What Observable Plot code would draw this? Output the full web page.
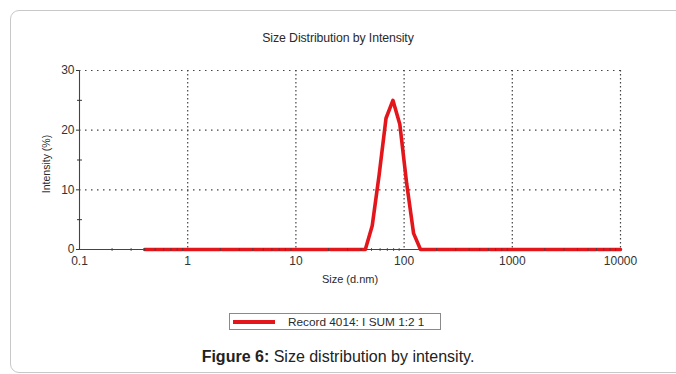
<!DOCTYPE html>
<html>
<head>
<meta charset="utf-8">
<script src="https://cdn.jsdelivr.net/npm/d3@7"></script>
<script src="https://cdn.jsdelivr.net/npm/@observablehq/plot@0.6"></script>
<style>
  html, body { margin: 0; padding: 0; background: #fff; }
  body { width: 676px; height: 374px; position: relative; overflow: hidden; font-family: 'Liberation Sans', Arial, sans-serif; }
  #card { position: absolute; left: 10px; top: 10px; width: 720px; height: 363px; border: 1px solid #c8c8c8; border-radius: 9px; box-sizing: border-box; }
  #title { position: absolute; left: 0; top: 31px; width: 676px; text-align: center; font-size: 12.3px; color: #2a2a2a; letter-spacing: -0.1px; }
  #chart { position: absolute; left: 0; top: 50px; }
  #legend { position: absolute; left: 229px; top: 313px; width: 212px; height: 17px; border: 1px solid #8a8a8a; box-sizing: border-box; background: #fff; }
  #legend .swatch { position: absolute; left: 3px; top: 6px; width: 42px; height: 3.5px; background: #e3161c; }
  #legend .lab { position: absolute; left: 58px; top: 1px; font-size: 11.8px; color: #2a2a2a; white-space: nowrap; }
  #caption { position: absolute; left: 0; top: 348px; width: 676px; text-align: center; font-size: 16px; color: #222; }
</style>
</head>
<body>
<div id="card"></div>
<div id="title">Size Distribution by Intensity</div>
<div id="chart"></div>
<div id="legend"><div class="swatch"></div><div class="lab">Record 4014: I SUM 1:2 1</div></div>
<div id="caption"><b>Figure 6:</b> Size distribution by intensity.</div>
<script>
// Data
const sizes = [0.4, 43.82, 50.75, 58.77, 68.06, 78.82, 91.28, 105.7, 122.4, 141.8, 10000];
const intensity = [0, 0, 4, 12.5, 22, 25, 21, 11, 2.7, 0, 0];

const xTicks = [0.1, 1, 10, 100, 1000, 10000];
const xTickLabels = ["0.1", "1", "10", "100", "1000", "10000"];
const yTicks = [0, 10, 20, 30];
const yTickLabels = ["0", "10", "20", "30"];
const yMinor = [5, 15, 25];
const decades = [0.1, 1, 10, 100, 1000];
const multipliers = [2, 3, 4, 5, 6, 7, 8, 9];
const xMinor = decades.flatMap(d => multipliers.map(m => +(d * m).toPrecision(3)));

const data = sizes.map((s, i) => ({size: s, value: intensity[i]}));

const vbar = {draw(ctx, size) { const h = Math.sqrt(size) / 2; ctx.moveTo(0, -h); ctx.lineTo(0, h); }};
const hbar = {draw(ctx, size) { const h = Math.sqrt(size) / 2; ctx.moveTo(-h, 0); ctx.lineTo(h, 0); }};

const chart = Plot.plot({
  width: 676,
  height: 245,
  marginTop: 20,
  marginBottom: 46,
  marginLeft: 79,
  marginRight: 56,
  style: {fontFamily: "'Liberation Sans', Arial, sans-serif", fontSize: "12px", color: "#333", background: "transparent"},
  x: {type: "log", domain: [0.1, 10000], ticks: xTicks, tickFormat: d => xTickLabels[xTicks.indexOf(d)], tickSize: 0, tickPadding: 7, label: null},
  y: {domain: [0, 30], ticks: yTicks, tickFormat: d => yTickLabels[yTicks.indexOf(d)], tickSize: 3, tickPadding: 2, label: null},
  marks: [
    Plot.ruleY([10, 20, 30], {stroke: "#444", strokeWidth: 1.2, strokeDasharray: "1.5,4.5"}),
    Plot.ruleX([1, 10, 100, 1000, 10000], {stroke: "#444", strokeWidth: 1.2, strokeDasharray: "1.5,2.5"}),
    Plot.ruleX([0.1], {stroke: "#444", strokeWidth: 1.1}),
    Plot.ruleY([0], {stroke: "#444", strokeWidth: 1.1}),
    Plot.line(data, {x: "size", y: "value", stroke: "#e3161c", strokeWidth: 3.6, strokeLinejoin: "round"}),
    Plot.dot(xMinor, {x: d => d, y: 0, symbol: vbar, r: 1.5, fill: "none", stroke: "#444", strokeWidth: 1}),
    Plot.dot(yMinor, {x: 0.1, y: d => d, symbol: hbar, r: 2.8, fill: "none", stroke: "#333", strokeWidth: 1}),
    Plot.text(["Size (d.nm)"], {frameAnchor: "bottom", dy: 30, lineAnchor: "middle", textAnchor: "middle", fontSize: 11, fill: "#2a2a2a"}),
    Plot.text(["Intensity (%)"], {frameAnchor: "left", dx: -33, dy: 4, rotate: -90, lineAnchor: "middle", textAnchor: "middle", fontSize: 10.5, fill: "#2a2a2a"})
  ]
});
document.getElementById("chart").appendChild(chart);
</script>
</body>
</html>
